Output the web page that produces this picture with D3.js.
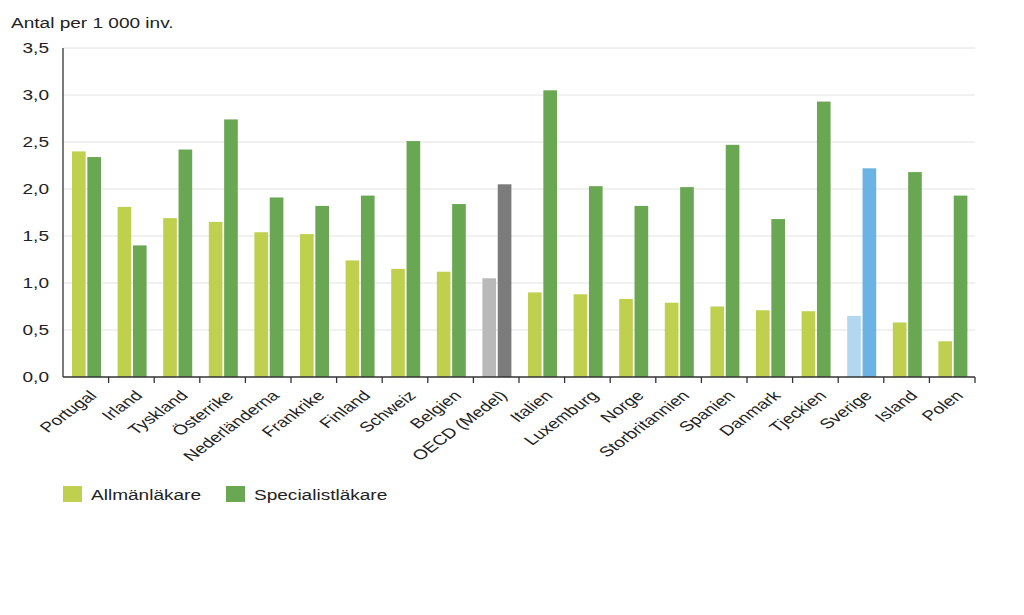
<!DOCTYPE html>
<html><head><meta charset="utf-8">
<script src="https://cdn.jsdelivr.net/npm/d3@7"></script>
<style>body{margin:0;background:#fff}svg{display:block}text{font-family:"Liberation Sans",Arial,sans-serif;fill:#222}</style>
</head><body>
<script>
const categories = ["Portugal","Irland","Tyskland","Österrike","Nederländerna","Frankrike","Finland","Schweiz","Belgien","OECD (Medel)","Italien","Luxemburg","Norge","Storbritannien","Spanien","Danmark","Tjeckien","Sverige","Island","Polen"];
const allman = [2.40,1.81,1.69,1.65,1.54,1.52,1.24,1.15,1.12,1.05,0.90,0.88,0.83,0.79,0.75,0.71,0.70,0.65,0.58,0.38];
const special = [2.34,1.40,2.42,2.74,1.91,1.82,1.93,2.51,1.84,2.05,3.05,2.03,1.82,2.02,2.47,1.68,2.93,2.22,2.18,1.93];
const yTicks = [0,0.5,1,1.5,2,2.5,3,3.5];
const seriesNames = ["Allmänläkare","Specialistläkare"];

const colors = {
  normal:["#bfd04f","#6aa753"],
  "OECD (Medel)":["#b9b9b9","#7b7b7b"],
  "Sverige":["#b4d7f1","#6bb3e5"]
};

const W=1024,H=615;
const SX=1.36, FS=14;
const m={left:63,right:49,top:48,bottom:238};
const svg=d3.select("body").append("svg").attr("width",W).attr("height",H);
const x=d3.scaleBand().domain(categories).range([m.left,W-m.right]).paddingInner(0).paddingOuter(0);
const y=d3.scaleLinear().domain([0,3.5]).range([H-m.bottom,m.top]);
const inner=d3.scaleBand().domain([0,1]).range([9,9+29]).paddingInner(0.11);

// gridlines
svg.append("g").selectAll("line").data(yTicks.filter(d=>d>0)).join("line")
  .attr("x1",m.left).attr("x2",W-m.right).attr("y1",d=>y(d)).attr("y2",d=>y(d))
  .attr("stroke","#e2e2e2").attr("stroke-width",1);

// y labels
svg.append("g").selectAll("text").data(yTicks).join("text")
  .attr("text-anchor","end").attr("font-size",FS)
  .attr("transform",d=>`translate(49,${y(d)+5.3}) scale(${SX},1)`)
  .text(d=>d3.format(".1f")(d).replace(".",","));

svg.append("text").attr("font-size",FS)
  .attr("transform",`translate(11,27.7) scale(${SX},1)`).text("Antal per 1 000 inv.");

// bars
const g=svg.append("g").selectAll("g").data(categories).join("g")
  .attr("transform",d=>`translate(${x(d)},0)`);
g.selectAll("rect").data((c,i)=>[[c,0,allman[i]],[c,1,special[i]]]).join("rect")
  .attr("x",d=>inner(d[1])).attr("width",inner.bandwidth())
  .attr("y",d=>y(d[2])).attr("height",d=>y(0)-y(d[2]))
  .attr("fill",d=>(colors[d[0]]||colors.normal)[d[1]]);

// axes
const y0=y(0);
svg.append("line").attr("x1",m.left).attr("x2",m.left).attr("y1",m.top).attr("y2",y0).attr("stroke","#333").attr("stroke-width",1.3);
svg.append("line").attr("x1",m.left).attr("x2",W-m.right).attr("y1",y0).attr("y2",y0).attr("stroke","#333").attr("stroke-width",1.3);
const bounds=categories.map(c=>x(c)+x.bandwidth());
svg.append("g").selectAll("line").data(bounds).join("line")
  .attr("x1",d=>d).attr("x2",d=>d).attr("y1",y0).attr("y2",y0+6).attr("stroke","#333").attr("stroke-width",1.3);

// x labels
svg.append("g").selectAll("text").data(categories).join("text")
  .attr("text-anchor","end").attr("font-size",FS)
  .attr("transform",d=>`translate(${x(d)+x.bandwidth()/2+12},${y0+19.5}) scale(${SX},1) rotate(-45)`)
  .text(d=>d);

// legend
const leg=svg.append("g");
const lx=[63,226];
seriesNames.forEach((s,i)=>{
  leg.append("rect").attr("x",lx[i]).attr("y",486).attr("width",19).attr("height",16).attr("fill",colors.normal[i]);
  leg.append("text").attr("font-size",FS)
    .attr("transform",`translate(${lx[i]+28},499.5) scale(${SX},1)`).text(s);
});
</script>
</body></html>
